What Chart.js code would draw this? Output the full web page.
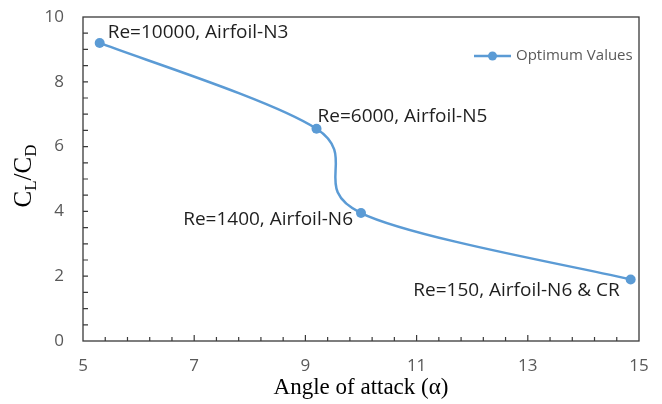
<!DOCTYPE html>
<html>
<head>
<meta charset="utf-8">
<script src="https://cdn.jsdelivr.net/npm/chart.js@4.4.1/dist/chart.umd.min.js"></script>
<style>
  html, body { margin: 0; padding: 0; background: #ffffff; }
  #wrap { width: 662px; height: 404px; }
</style>
</head>
<body>
<div id="wrap"><canvas id="chart" width="662" height="404"></canvas></div>
<script>
// Optimum lift-to-drag ratio against angle of attack
const angleOfAttack = [5.3, 9.2, 10.0, 14.85];
const liftDragRatio = [9.2, 6.55, 3.95, 1.9];
const pointLabels = [
  'Re=10000, Airfoil-N3',
  'Re=6000, Airfoil-N5',
  'Re=1400, Airfoil-N6',
  'Re=150, Airfoil-N6 & CR'
];
const seriesName = 'Optimum Values';
const xTickValues = [5, 7, 9, 11, 13, 15];
const yTickValues = [0, 2, 4, 6, 8, 10];
const xAxisTitle = 'Angle of attack (\u03b1)';

// where each annotation sits relative to its marker
const labelPlacement = [
  { align: 'left',  dx: 8,   dy: -10 },
  { align: 'left',  dx: 1,   dy: -12 },
  { align: 'right', dx: -8,  dy: 7 },
  { align: 'right', dx: -11, dy: 11 }
];

const BLUE = '#5B9BD5';
const AXIS_GREY = '#595959';
const FRAME = '#3a3a3a';
const LABEL_FONT = '19px "Open Sans"';

// Excel-style smoothing: control points at 1/6 of the neighbour chord
const smoothCurve = {
  id: 'smoothCurve',
  beforeDatasetDraw(chart, args) {
    const meta = args.meta;
    const line = meta.dataset;
    if (!line) return;
    line.updateControlPoints(chart.chartArea, meta.iScale.axis);
    const pts = meta.data;
    for (let i = 0; i < pts.length; i++) {
      const p = pts[i];
      const prev = pts[i - 1] || p;
      const next = pts[i + 1] || p;
      const tx = (next.x - prev.x) / 6;
      const ty = (next.y - prev.y) / 6;
      p.cp1x = p.x - tx; p.cp1y = p.y - ty;
      p.cp2x = p.x + tx; p.cp2y = p.y + ty;
    }
    line._path = undefined;
  }
};

// plot frame with inward tick marks
const frameAndTicks = {
  id: 'frameAndTicks',
  afterDatasetsDraw(chart) {
    const { ctx, chartArea: a, scales: { x, y } } = chart;
    ctx.save();
    ctx.strokeStyle = FRAME;
    ctx.lineWidth = 1.3;
    ctx.strokeRect(a.left, a.top, a.right - a.left, a.bottom - a.top);
    ctx.lineWidth = 1.2;
    ctx.beginPath();
    for (let i = 1; i < 25; i++) {
      const v = x.min + i * 0.4;
      const px = x.getPixelForValue(v);
      const major = i % 5 === 0;
      ctx.moveTo(px, a.bottom);
      ctx.lineTo(px, a.bottom - (major ? 6 : 4));
    }
    for (let i = 1; i < 20; i++) {
      const v = y.min + i * 0.5;
      const py = y.getPixelForValue(v);
      ctx.moveTo(a.left, py);
      ctx.lineTo(a.left + 5, py);
    }
    ctx.stroke();
    ctx.restore();
  }
};

// text beside each marker
const markerLabels = {
  id: 'markerLabels',
  afterDatasetsDraw(chart) {
    const { ctx } = chart;
    const pts = chart.getDatasetMeta(0).data;
    ctx.save();
    ctx.font = LABEL_FONT;
    ctx.fillStyle = '#1f1f1f';
    ctx.textBaseline = 'middle';
    pts.forEach((p, i) => {
      const pl = labelPlacement[i];
      ctx.textAlign = pl.align;
      ctx.fillText(pointLabels[i], p.x + pl.dx, p.y + pl.dy);
    });
    ctx.restore();
  }
};

// legend entry: line with marker, inside the plot
const lineLegend = {
  id: 'lineLegend',
  afterDatasetsDraw(chart) {
    const { ctx, chartArea: a } = chart;
    const ds = chart.data.datasets[0];
    const yMid = a.top + 39;
    const x0 = a.right - 165;
    ctx.save();
    ctx.strokeStyle = ds.borderColor;
    ctx.lineWidth = ds.borderWidth;
    ctx.beginPath();
    ctx.moveTo(x0, yMid);
    ctx.lineTo(x0 + 37, yMid);
    ctx.stroke();
    ctx.fillStyle = ds.pointBackgroundColor;
    ctx.beginPath();
    ctx.arc(x0 + 18.5, yMid, 4.5, 0, Math.PI * 2);
    ctx.fill();
    ctx.fillStyle = AXIS_GREY;
    ctx.font = '15px "Open Sans"';
    ctx.textAlign = 'left';
    ctx.textBaseline = 'middle';
    ctx.fillText(ds.label, x0 + 42, yMid);
    ctx.restore();
  }
};

// rotated y title C_L/C_D with subscripts
const yTitle = {
  id: 'yTitle',
  afterDraw(chart) {
    const { ctx } = chart;
    const parts = [
      { t: 'C', sub: false }, { t: 'L', sub: true },
      { t: '/', sub: false },
      { t: 'C', sub: false }, { t: 'D', sub: true }
    ];
    const mainFont = '25px "Liberation Serif"';
    const subFont = '17px "Liberation Serif"';
    ctx.save();
    let total = 0;
    parts.forEach(p => {
      ctx.font = p.sub ? subFont : mainFont;
      p.w = ctx.measureText(p.t).width;
      total += p.w;
    });
    ctx.translate(31, 176);
    ctx.rotate(-Math.PI / 2);
    ctx.fillStyle = '#000000';
    ctx.textBaseline = 'alphabetic';
    ctx.textAlign = 'left';
    let u = -total / 2;
    parts.forEach(p => {
      ctx.font = p.sub ? subFont : mainFont;
      ctx.fillText(p.t, u, p.sub ? 5 : 0);
      u += p.w;
    });
    ctx.restore();
  }
};

const tickFont = { family: 'Open Sans', size: 17 };

new Chart(document.getElementById('chart'), {
  type: 'line',
  data: {
    datasets: [{
      label: seriesName,
      data: angleOfAttack.map((a, i) => ({ x: a, y: liftDragRatio[i] })),
      borderColor: BLUE,
      backgroundColor: BLUE,
      pointBackgroundColor: BLUE,
      pointBorderColor: BLUE,
      pointBorderWidth: 0,
      pointRadius: 5,
      borderWidth: 2.5,
      tension: 0.4,
      fill: false
    }]
  },
  options: {
    responsive: false,
    animation: false,
    events: [],
    layout: { padding: { left: 0, right: 23, top: 17, bottom: 0 } },
    plugins: { legend: { display: false }, tooltip: { enabled: false } },
    scales: {
      x: {
        type: 'linear',
        min: 5, max: 15,
        afterBuildTicks: s => { s.ticks = xTickValues.map(v => ({ value: v })); },
        afterFit: s => { s.height = 63; s.paddingLeft = 0; s.paddingRight = 0; },
        grid: { display: false, drawTicks: false },
        border: { display: false },
        ticks: { color: AXIS_GREY, font: tickFont, padding: 15, maxRotation: 0, autoSkip: false },
        title: {
          display: true,
          text: xAxisTitle,
          color: '#000000',
          font: { family: 'Liberation Serif', size: 23 },
          padding: { top: 0, bottom: 2 }
        }
      },
      y: {
        type: 'linear',
        min: 0, max: 10,
        afterBuildTicks: s => { s.ticks = yTickValues.map(v => ({ value: v })); },
        afterFit: s => { s.width = 83; s.paddingTop = 0; s.paddingBottom = 0; },
        grid: { display: false, drawTicks: false },
        border: { display: false },
        ticks: { color: AXIS_GREY, font: tickFont, padding: 19, autoSkip: false }
      }
    }
  },
  plugins: [smoothCurve, frameAndTicks, markerLabels, lineLegend, yTitle]
});
</script>
</body>
</html>
